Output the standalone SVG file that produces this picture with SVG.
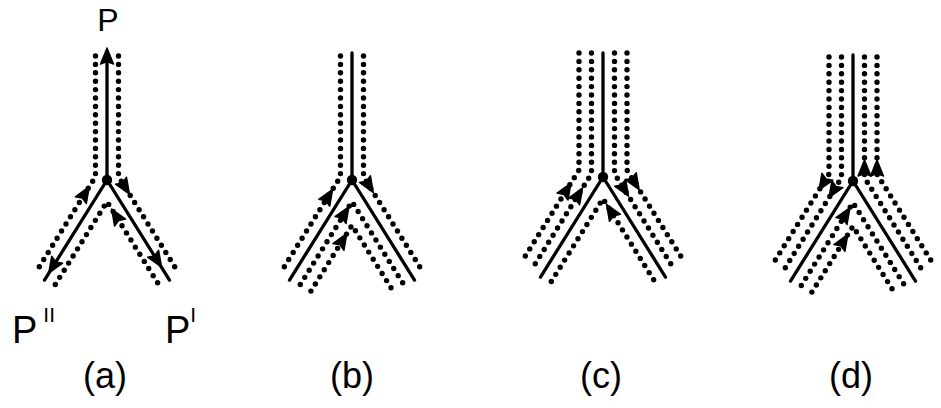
<svg xmlns="http://www.w3.org/2000/svg" width="941" height="408" viewBox="0 0 941 408">
<style>
.solid{stroke:#000;stroke-width:3.3;fill:none;stroke-linecap:round}
.dots{stroke:#000;stroke-width:5.4;fill:none;stroke-linecap:round;stroke-dasharray:0 8.4}
.lbl{font-family:"Liberation Sans",Arial,sans-serif;fill:#000}
</style>
<defs>
<path id="ah" d="M0,0 L-16,-6.5 L-13.5,0 L-16,6.5 Z" fill="#000" stroke="#000" stroke-width="1.4" stroke-linejoin="round"/>
<g id="core">
<path class="solid" d="M0,0 L-62.5,100.1 M0,0 L62.5,100.1"/>
<circle r="5.2" fill="#000"/>
</g>
<path id="o1" class="dots" d="M-11.5,-124 L-11.5,-3.3 L-71.2,92.3 M11.5,-124 L11.5,-3.3 L71.2,92.3"/>
<path id="o2" class="dots" d="M-24,-124 L-24,-6.9 L-81.8,85.6 M24,-124 L24,-6.9 L81.8,85.6"/>
<path id="i1" class="dots" d="M-51.7,104.5 L0,21.7 L51.7,104.5"/>
<path id="i2" class="dots" d="M-41.1,111.1 L0,45.3 L41.1,111.1"/>
</defs>
<rect width="941" height="408" fill="#fff"/>
<g id="connectors">
<g id="panel-a" transform="translate(107,180)">
<path class="solid" d="M0,0 V-122"/>
<use href="#core"/>
<use href="#o1"/>
<use href="#i1"/>
<use href="#ah" transform="translate(0,-132) rotate(-90)"/>
<use href="#ah" transform="translate(-17.7,6.6) rotate(-58)"/>
<use href="#ah" transform="translate(-58.3,93.3) rotate(122)"/>
<use href="#ah" transform="translate(22.5,14.3) rotate(58)"/>
<use href="#ah" transform="translate(4.6,29) rotate(-122)"/>
<use href="#ah" transform="translate(54.6,87.3) rotate(58)"/>
</g>
<g id="panel-b" transform="translate(352,180)">
<path class="solid" d="M0,0 V-127"/>
<use href="#core"/>
<use href="#o1"/>
<use href="#i1"/>
<use href="#i2"/>
<use href="#ah" transform="translate(-19.3,9.2) rotate(-58)"/>
<use href="#ah" transform="translate(21.4,12.6) rotate(58)"/>
<use href="#ah" transform="translate(-3,26.5) rotate(-58)"/>
<use href="#ah" transform="translate(-5.1,53.4) rotate(-58)"/>
</g>
<g id="panel-c" transform="translate(603,177)">
<path class="solid" d="M0,3 V-124"/>
<use href="#core"/>
<use href="#o1"/>
<use href="#o2"/>
<use href="#i1"/>
<use href="#ah" transform="translate(-32,6) rotate(-58)"/>
<use href="#ah" transform="translate(-20.4,10.9) rotate(-58)"/>
<use href="#ah" transform="translate(25.6,19.3) rotate(58)"/>
<use href="#ah" transform="translate(36.2,12.7) rotate(58)"/>
<use href="#ah" transform="translate(3.5,27.3) rotate(-122)"/>
</g>
<g id="panel-d" transform="translate(853,181)">
<path class="solid" d="M0,0 V-126"/>
<use href="#core"/>
<use href="#o1"/>
<use href="#o2"/>
<use href="#i1"/>
<use href="#i2"/>
<use href="#ah" transform="translate(-34.1,9.3) rotate(122)"/>
<use href="#ah" transform="translate(-24.1,16.8) rotate(122)"/>
<use href="#ah" transform="translate(11.5,-21) rotate(-90)"/>
<use href="#ah" transform="translate(24,-21) rotate(-90)"/>
<use href="#ah" transform="translate(-3,26.5) rotate(-58)"/>
<use href="#ah" transform="translate(-5.1,53.4) rotate(-58)"/>
</g>
</g>
<g id="labels" class="lbl">
<text x="108" y="31" font-size="32" text-anchor="middle">P</text>
<text x="12" y="343" font-size="38">P<tspan font-size="21" dy="-21" dx="6">II</tspan></text>
<text x="165" y="343" font-size="38">P<tspan font-size="21" dy="-21" dx="0">I</tspan></text>
<text x="105" y="388" font-size="36" text-anchor="middle">(a)</text>
<text x="352" y="388" font-size="36" text-anchor="middle">(b)</text>
<text x="601" y="388" font-size="36" text-anchor="middle">(c)</text>
<text x="851" y="388" font-size="36" text-anchor="middle">(d)</text>
</g>
</svg>
